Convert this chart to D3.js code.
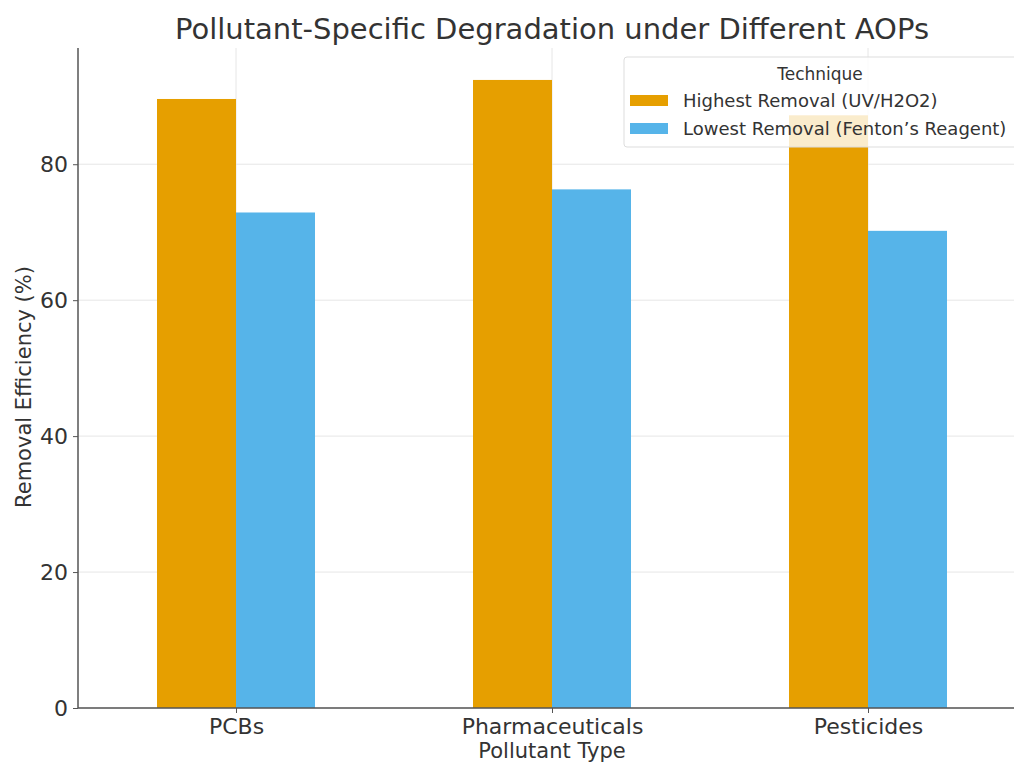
<!DOCTYPE html>
<html>
<head>
<meta charset="utf-8">
<script src="https://cdn.jsdelivr.net/npm/d3@7"></script>
<style>
  body { margin: 0; background: #fff; }
  text { font-family: "DejaVu Sans", sans-serif; }
</style>
</head>
<body>
<div id="chart"></div>
<script>
// data
const pollutants = ["PCBs", "Pharmaceuticals", "Pesticides"];
const techniques = ["Highest Removal (UV/H2O2)", "Lowest Removal (Fenton\u2019s Reagent)"];
const highest = [89.6, 92.4, 87.2];
const lowest = [72.9, 76.3, 70.2];
const yTicks = [0, 20, 40, 60, 80];
const colors = ["#E69F00", "#56B4E9"];

const w = 1014, h = 767;
const padL = 78, padR = 1026, padT = 48, padB = 708;

const svg = d3.select("#chart").append("svg")
  .attr("width", w)
  .attr("height", h);

// x runs from -0.5 to 2.5 like a pandas bar plot
const x = d3.scaleLinear().domain([-0.5, 2.5]).range([padL, padR]);
const y = d3.scaleLinear().domain([0, 97.1]).range([padB, padT]);
const barW = x(0.25) - x(0);

// grid
svg.append("g").selectAll("line")
  .data(yTicks)
  .enter().append("line")
  .attr("x1", padL).attr("x2", padR)
  .attr("y1", d => y(d)).attr("y2", d => y(d))
  .attr("stroke", "#e6e6e6").attr("stroke-width", 1);
svg.append("g").selectAll("line")
  .data(pollutants)
  .enter().append("line")
  .attr("x1", (d, i) => x(i)).attr("x2", (d, i) => x(i))
  .attr("y1", padT).attr("y2", padB)
  .attr("stroke", "#e6e6e6").attr("stroke-width", 1);

// bars
const series = [highest, lowest];
series.forEach((vals, s) => {
  svg.append("g").selectAll("rect")
    .data(vals)
    .enter().append("rect")
    .attr("x", (d, i) => x(i) - barW + s * barW)
    .attr("y", d => y(d))
    .attr("width", barW)
    .attr("height", d => padB - y(d))
    .attr("fill", colors[s]);
});

// axes
const yAxis = d3.axisLeft(y).tickValues(yTicks).tickSize(5).tickPadding(5);
const gy = svg.append("g").attr("transform", `translate(${padL},0)`).call(yAxis);
const xAxis = d3.axisBottom(x).tickValues([0, 1, 2]).tickFormat(i => pollutants[i]).tickSize(5).tickPadding(5);
const gx = svg.append("g").attr("transform", `translate(0,${padB})`).call(xAxis);
[gy, gx].forEach(g => {
  g.select(".domain").attr("stroke", "#555").attr("stroke-width", 1.5);
  g.selectAll(".tick line").attr("stroke", "#555");
  g.selectAll(".tick text").attr("fill", "#333").style("font-size", "22px");
});
gx.select(".domain").attr("d", `M${padL},0H${padR}`);
gy.select(".domain").attr("d", `M0,${padT}V${padB}`);

// labels
svg.append("text")
  .attr("x", 552).attr("y", 39)
  .attr("text-anchor", "middle")
  .style("font-size", "29px")
  .attr("fill", "#333")
  .text("Pollutant-Specific Degradation under Different AOPs");

svg.append("text")
  .attr("x", 552).attr("y", 758)
  .attr("text-anchor", "middle")
  .style("font-size", "21px")
  .attr("fill", "#333")
  .text("Pollutant Type");

svg.append("text")
  .attr("transform", "rotate(-90)")
  .attr("x", -387).attr("y", 31)
  .attr("text-anchor", "middle")
  .style("font-size", "21px")
  .attr("fill", "#333")
  .text("Removal Efficiency (%)");

// legend
const legend = svg.append("g").attr("id", "legend");
legend.append("rect")
  .attr("x", 624).attr("y", 57)
  .attr("width", 400).attr("height", 90)
  .attr("rx", 3)
  .attr("fill", "rgba(255,255,255,0.8)")
  .attr("stroke", "#ddd");
legend.append("text")
  .attr("x", 820).attr("y", 80)
  .attr("text-anchor", "middle")
  .style("font-size", "17px")
  .attr("fill", "#333")
  .text("Technique");
techniques.forEach((t, i) => {
  legend.append("rect")
    .attr("x", 630).attr("y", 95 + i * 28)
    .attr("width", 38).attr("height", 11)
    .attr("fill", colors[i]);
  legend.append("text")
    .attr("x", 683).attr("y", 107 + i * 28)
    .style("font-size", "18px")
    .attr("fill", "#333")
    .text(t);
});
</script>
</body>
</html>
